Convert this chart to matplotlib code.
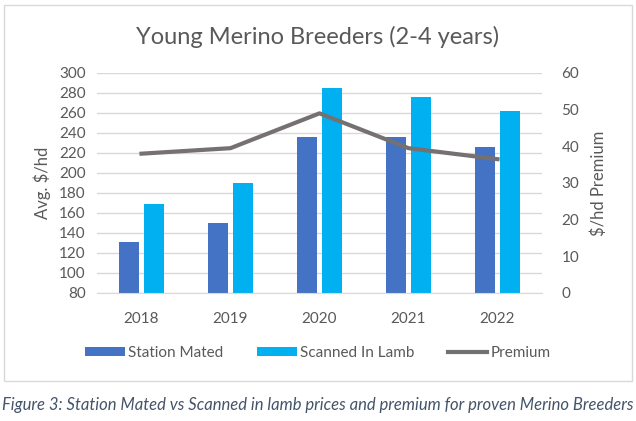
import matplotlib.pyplot as plt
import numpy as np
from matplotlib.patches import Rectangle

# values
years = ['2018', '2019', '2020', '2021', '2022']
station_mated = [131, 150, 236, 236, 226]
scanned_in_lamb = [169, 190, 285, 276, 262]
premium = [38, 39.5, 49, 39.5, 36.5]

font = 'Lato'
grey = '#595959'
plt.rcParams['font.family'] = [font, 'DejaVu Sans']

fig = plt.figure(figsize=(6.36, 4.21), dpi=100)
ax = fig.add_axes([97 / 636, 1 - 293 / 421, 445 / 636, 220 / 421])

x = np.arange(len(years))
w = 0.225
ax.bar(x - w / 2 - 0.028, station_mated, w, color='#4472C4', label='Station Mated', zorder=2)
ax.bar(x + w / 2 + 0.028, scanned_in_lamb, w, color='#00B0F0', label='Scanned In Lamb', zorder=2)
ax.set_ylim(80, 300)
ax.set_yticks(range(80, 301, 20))
ax.set_xlim(-0.5, len(years) - 0.5)
ax.set_xticks(x)
ax.set_xticklabels(years)
ax.grid(axis='y', color='#D9D9D9', linewidth=1, zorder=0)
ax.set_axisbelow(True)
for s in ['top', 'left', 'right']:
    ax.spines[s].set_visible(False)
ax.spines['bottom'].set_color('#D9D9D9')
ax.tick_params(length=0, labelsize=11, colors=grey, pad=8)
ax.tick_params(axis='x', pad=14)
ax.set_ylabel('Avg. $/hd', fontsize=12, color=grey, labelpad=6)

ax2 = ax.twinx()
ax2.plot(x, premium, color='#767171', linewidth=3, label='Premium', zorder=3)
ax2.set_ylim(0, 60)
ax2.set_yticks(range(0, 61, 10))
for s in ['top', 'left', 'right', 'bottom']:
    ax2.spines[s].set_visible(False)
ax2.tick_params(length=0, labelsize=11, colors=grey, pad=14)
ax2.set_ylabel('$/hd Premium', fontsize=12, color=grey, labelpad=8)

fig.text(0.5, 1 - 37 / 421, 'Young Merino Breeders (2-4 years)', ha='center', va='center',
         fontsize=17, color=grey)

h1, l1 = ax.get_legend_handles_labels()
h2, l2 = ax2.get_legend_handles_labels()
fig.legend(h1 + h2, l1 + l2, loc='center', bbox_to_anchor=(0.5, 1 - 353 / 421), ncol=3,
           frameon=False, fontsize=11, labelcolor=grey, handlelength=2.6, handleheight=0.55,
           handletextpad=0.2, columnspacing=2.2)

fig.patches.append(Rectangle((4 / 636, 1 - 381 / 421), 628 / 636, 376 / 421, transform=fig.transFigure,
                             facecolor='none', edgecolor='#D9D9D9', linewidth=1))

fig.text(0.5, 1 - 405 / 421,
         'Figure 3: Station Mated vs Scanned in lamb prices and premium for proven Merino Breeders',
         ha='center', va='center', fontsize=12, style='italic', color='#44546A')

fig.savefig('out.png', dpi=100)
